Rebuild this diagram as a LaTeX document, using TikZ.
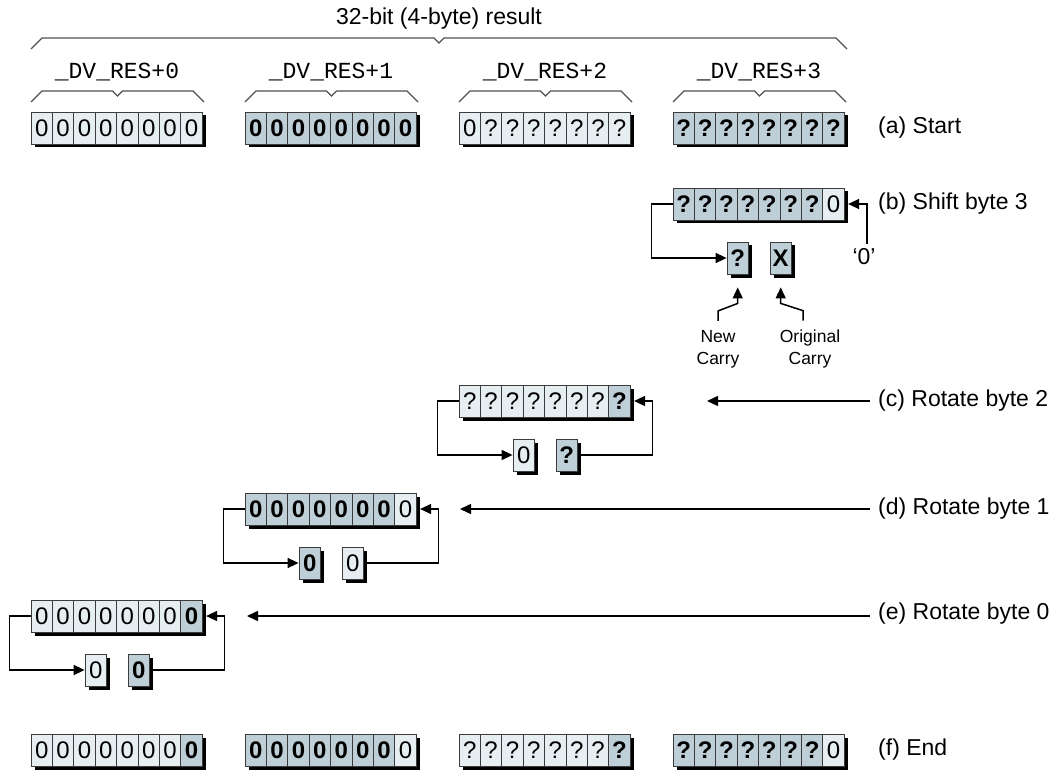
\documentclass[tikz,border=0pt]{standalone}
\usepackage{fontspec}
\setmainfont{Liberation Sans}
\newfontfamily\monofam{Liberation Mono}
\usetikzlibrary{arrows.meta,shadows}
\definecolor{cellL}{RGB}{231,238,242}
\definecolor{cellD}{RGB}{191,207,216}
\definecolor{cellB}{RGB}{60,60,60}
\definecolor{brcol}{RGB}{80,80,80}
\newcommand\cw{21.4}
\newcommand\byterow[4]{%
  \foreach \ctype/\cval [count=\ci from 0] in {#4}{
    \node[c\ctype] (#1\ci) at ({#2+(\ci+0.5)*\cw},{#3}) {\cval};
  }%
}
\newcommand\bracket[3]{%
  \draw[bracestyle] (#1,#3+11) -- (#1+11,#3) -- ({(#1+#2)/2-5},#3) -- ({(#1+#2)/2},#3+5) -- ({(#1+#2)/2+5},#3) -- (#2-11,#3) -- (#2,#3+11);
}
\tikzset{
  cellbase/.style={rectangle, draw=cellB, line width=0.8pt, minimum width=\cw pt, minimum height=32pt, inner sep=0pt,
    general shadow={fill=black, shadow xshift=3.5pt, shadow yshift=-3.5pt}},
  cl/.style={cellbase, fill=cellL, font=\fontsize{24}{24}\selectfont},
  cd/.style={cellbase, fill=cellD, font=\fontsize{24}{24}\selectfont\bfseries},
  lab/.style={inner sep=0pt, font=\fontsize{23}{27}\selectfont},
  small/.style={inner sep=0pt, align=center, font=\fontsize{17.5}{22}\selectfont},
  mono/.style={inner sep=0pt, font=\fontsize{23}{26}\monofam},
  bracestyle/.style={draw=brcol, line width=1.2pt},
  arr/.style={draw=black, line width=1.5pt, -{Triangle[length=11pt,width=10pt]}},
}
\begin{document}
\begin{tikzpicture}[x=1pt,y=-1pt]
\useasboundingbox (0,0) rectangle (1063,770);

% title and braces
\node[lab] (title) at (439,19) {32-bit (4-byte) result};
\bracket{31}{847}{38}
\bracket{31}{204}{91}
\bracket{245}{418}{91}
\bracket{459}{632}{91}
\bracket{673}{846}{91}
\node[mono] (r0) at (117,72) {\_DV\_RES+0};
\node[mono] (r1) at (331,72) {\_DV\_RES+1};
\node[mono] (r2) at (545,72) {\_DV\_RES+2};
\node[mono] (r3) at (759,72) {\_DV\_RES+3};

% row labels
\node[lab, anchor=west] (la) at (878,128) {(a) Start};
\node[lab, anchor=west] (lb) at (878,204) {(b) Shift byte 3};
\node[lab, anchor=west] (lc) at (878,401) {(c) Rotate byte 2};
\node[lab, anchor=west] (ld) at (878,509) {(d) Rotate byte 1};
\node[lab, anchor=west] (le) at (878,614) {(e) Rotate byte 0};
\node[lab, anchor=west] (lf) at (878,750) {(f) End};

% (a) start
\byterow{aa}{31}{128}{l/0,l/0,l/0,l/0,l/0,l/0,l/0,l/0}
\byterow{ab}{245}{128}{d/0,d/0,d/0,d/0,d/0,d/0,d/0,d/0}
\byterow{ac}{459}{128}{l/0,l/?,l/?,l/?,l/?,l/?,l/?,l/?}
\byterow{ad}{673}{128}{d/?,d/?,d/?,d/?,d/?,d/?,d/?,d/?}

% (b) shift byte 3
\byterow{b}{673}{204}{d/?,d/?,d/?,d/?,d/?,d/?,d/?,l/0}
\node[cd] (bn) at (737.7,258) {?};
\node[cd] (bo) at (780.7,258) {X};
\node[lab] (bq) at (864,257) {‘0’};
\draw[arr] (b0.west) -- ([xshift=-21pt]b0.west) |- (bn.west);
\draw[arr] ([xshift=3pt,yshift=5pt]bq.north) |- ([xshift=3.5pt]b7.east);
\node[small] (nc) at (718,349) {New\\Carry};
\node[small] (oc) at (810,349) {Original\\Carry};
\draw[arr] ([yshift=9pt]nc.north) -- ++(0,-10) -- ([yshift=-29pt]bn.south) -- ([yshift=-13pt]bn.south);
\draw[arr] ([xshift=-7pt,yshift=9pt]oc.north) -- ++(0,-10) -- ([yshift=-29pt]bo.south) -- ([yshift=-13pt]bo.south);

% (c) rotate byte 2
\byterow{c}{459}{401}{l/?,l/?,l/?,l/?,l/?,l/?,l/?,d/?}
\node[cl] (cn) at (523.7,455) {0};
\node[cd] (co) at (566.7,455) {?};
\draw[arr] (c0.west) -- ([xshift=-21pt]c0.west) |- (cn.west);
\draw[arr] ([xshift=3.5pt]co.east) -| ([xshift=22pt]c7.east) -- ([xshift=3.5pt]c7.east);
\coordinate (cT) at (707,401);
\draw[arr] ([xshift=-8pt]lc.west) -- (cT);

% (d) rotate byte 1
\byterow{d}{245}{509}{d/0,d/0,d/0,d/0,d/0,d/0,d/0,l/0}
\node[cd] (dn) at (309.7,563) {0};
\node[cl] (do) at (352.7,563) {0};
\draw[arr] (d0.west) -- ([xshift=-21pt]d0.west) |- (dn.west);
\draw[arr] ([xshift=3.5pt]do.east) -| ([xshift=22pt]d7.east) -- ([xshift=3.5pt]d7.east);
\coordinate (dT) at (460,509);
\draw[arr] ([xshift=-8pt]ld.west) -- (dT);

% (e) rotate byte 0
\byterow{e}{31}{616}{l/0,l/0,l/0,l/0,l/0,l/0,l/0,d/0}
\node[cl] (en) at (95.7,670) {0};
\node[cd] (eo) at (138.7,670) {0};
\draw[arr] (e0.west) -- ([xshift=-21pt]e0.west) |- (en.west);
\draw[arr] ([xshift=3.5pt]eo.east) -| ([xshift=22pt]e7.east) -- ([xshift=3.5pt]e7.east);
\coordinate (eT) at (247,616);
\draw[arr] ([xshift=-8pt,yshift=-2pt]le.west) -- (eT);

% (f) end
\byterow{fa}{31}{750}{l/0,l/0,l/0,l/0,l/0,l/0,l/0,d/0}
\byterow{fb}{245}{750}{d/0,d/0,d/0,d/0,d/0,d/0,d/0,l/0}
\byterow{fc}{459}{750}{l/?,l/?,l/?,l/?,l/?,l/?,l/?,d/?}
\byterow{fd}{673}{750}{d/?,d/?,d/?,d/?,d/?,d/?,d/?,l/0}
\end{tikzpicture}
\end{document}
